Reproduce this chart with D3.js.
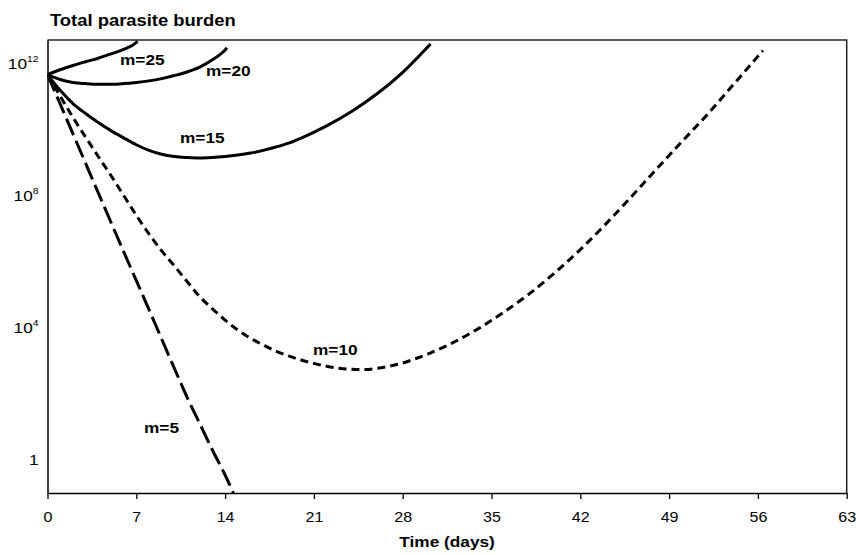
<!DOCTYPE html>
<html>
<head>
<meta charset="utf-8">
<script src="https://cdn.jsdelivr.net/npm/d3@7"></script>
<style>
  html, body { margin: 0; padding: 0; background: #fff; }
  svg { display: block; }
  text { font-family: "Liberation Sans", Arial, Helvetica, sans-serif; fill: #000; }
</style>
</head>
<body>
<svg id="chart" width="856" height="555"></svg>
<script>
// ---- Data (Total parasite burden vs days) ----
const xTicks = [0, 7, 14, 21, 28, 35, 42, 49, 56, 63];
const yTicks = [1, 1e4, 1e8, 1e12];
const yTickLabels = [["1", ""], ["10", "4"], ["10", "8"], ["10", "12"]];

const daysM25 = [0, 1, 2, 3, 4, 5, 6, 7, 7.1];
const burdenM25 = [4.5e11, 6.3e11, 8.5e11, 1.1e12, 1.4e12, 1.9e12, 2.6e12, 4.2e12, 4.6e12];

const daysM20 = [0, 1, 2, 3, 4, 5, 6, 7, 8, 9, 10, 11, 12, 13, 14, 14.15];
const burdenM20 = [4.5e11, 3.2e11, 2.6e11, 2.4e11, 2.3e11, 2.3e11, 2.4e11, 2.6e11, 2.9e11, 3.4e11,
                   4.2e11, 5.4e11, 7.6e11, 1.26e12, 2.5e12, 2.9e12];

const daysM15 = [0, 1, 2, 3, 4, 5, 6, 7, 8, 9, 10, 11, 12, 13, 14, 15, 16, 17, 18, 19, 20,
                 22, 24, 26, 28, 30, 30.2];
const burdenM15 = [4.5e11, 1.5e11, 6.0e10, 3.0e10, 1.6e10, 9.1e9, 5.5e9, 3.4e9, 2.3e9, 1.75e9,
                   1.5e9, 1.4e9, 1.35e9, 1.4e9, 1.5e9, 1.66e9, 1.9e9, 2.3e9, 2.9e9, 3.8e9, 5.4e9,
                   1.26e10, 3.5e10, 1.2e11, 5.25e11, 3.16e12, 3.8e12];

const daysM10 = [0, 1, 2, 3, 4, 5, 6, 7, 8, 9, 10, 11, 12, 13, 14, 15, 16, 17, 18, 19, 20,
                 21, 22, 23, 24, 25, 26, 27, 28, 29, 30, 32, 34, 36, 38, 40, 42, 44, 46, 48,
                 50, 52, 54, 56, 56.4];
const burdenM10 = [4.5e11, 1.0e11, 2.3e10, 5.8e9, 1.5e9, 4.0e8, 1.0e8, 2.5e7, 6.8e6, 2.1e6,
                   7.4e5, 2.5e5, 8.7e4, 3.7e4, 1.7e4, 8.5e3, 4.8e3, 3.0e3, 1.95e3, 1.4e3, 1.05e3,
                   830, 680, 590, 550, 540, 590, 690, 850, 1.15e3, 1.6e3, 3.6e3, 9.5e3, 3.0e4,
                   1.07e5, 4.6e5, 2.3e6, 1.35e7, 8.9e7, 6.2e8, 4.2e9, 2.75e10, 2.1e11, 1.6e12, 2.4e12];

const daysM5 = [0, 2, 4, 6, 8, 10, 11, 12, 13, 14, 14.65];
const burdenM5 = [4.5e11, 7.4e9, 1.2e8, 2.0e6, 3.5e4, 590, 79, 12.6, 2.0, 0.35, 0.1];

const seriesNames = ["m=25", "m=20", "m=15", "m=10", "m=5"];

// ---- Build series ----
const series = [
  { name: seriesNames[0], days: daysM25, vals: burdenM25, dash: null,   label: [120, 65] },
  { name: seriesNames[1], days: daysM20, vals: burdenM20, dash: null,   label: [206, 76] },
  { name: seriesNames[2], days: daysM15, vals: burdenM15, dash: null,   label: [180, 143] },
  { name: seriesNames[3], days: daysM10, vals: burdenM10, dash: "8,5",  label: [313, 355] },
  { name: seriesNames[4], days: daysM5,  vals: burdenM5,  dash: "18,6", label: [144, 433] }
];

const svg = d3.select("#chart");
const plotL = 47.5, plotR = 846.7, plotT = 40, plotB = 493;
const SX = 1.15; // horizontal text stretch of the reference

const x = d3.scaleLinear().domain([0, 63]).range([plotL, plotR]);
const y = d3.scaleLog().domain([0.1, 5e12]).range([plotB, plotT]);

svg.append("defs").append("clipPath").attr("id", "plotclip")
  .append("rect").attr("x", plotL).attr("y", plotT).attr("width", plotR - plotL).attr("height", plotB - plotT);

// frame (top and right)
svg.append("path")
  .attr("d", `M${plotL},${plotT}H${plotR}V${plotB}`)
  .attr("fill", "none").attr("stroke", "#222").attr("stroke-width", 1.5);

// lines
const line = d3.line().x(d => x(d[0])).y(d => y(d[1])).curve(d3.curveMonotoneX);
const gLines = svg.append("g").attr("clip-path", "url(#plotclip)");
series.forEach(s => {
  const pts = s.days.map((d, i) => [d, s.vals[i]]);
  gLines.append("path")
    .attr("d", line(pts))
    .attr("fill", "none")
    .attr("stroke", "#000")
    .attr("stroke-width", 3)
    .attr("stroke-linecap", "butt")
    .attr("stroke-dasharray", s.dash);
});

// x axis
const xAxis = svg.append("g").attr("transform", `translate(0,${plotB})`)
  .call(d3.axisBottom(x).tickValues(xTicks).tickSize(6).tickSizeOuter(0).tickFormat(d3.format("d")));
xAxis.select(".domain").attr("stroke", "#000").attr("stroke-width", 1.5);
xAxis.selectAll(".tick line").attr("stroke", "#000").attr("stroke-width", 1.3);
xAxis.selectAll(".tick text")
  .attr("font-size", 14).attr("y", 0).attr("dy", 0)
  .attr("transform", `translate(0,29) scale(${SX},1)`)
  .style("font-family", "'Liberation Sans', Arial, sans-serif");

// y axis
const yAxis = svg.append("g").attr("transform", `translate(${plotL},0)`)
  .call(d3.axisLeft(y).tickValues(yTicks).tickSize(0).tickSizeOuter(0).tickFormat(() => ""));
yAxis.select(".domain").attr("stroke", "#000").attr("stroke-width", 1.5);
yAxis.selectAll(".tick text").each(function(d) {
  const t = d3.select(this);
  const lab = yTickLabels[yTicks.indexOf(d)];
  t.text(null)
    .attr("x", 0).attr("dy", 0).attr("y", 0)
    .attr("text-anchor", "end")
    .attr("transform", `translate(-9,5) scale(${SX},1)`)
    .style("font-family", "'Liberation Sans', Arial, sans-serif");
  t.append("tspan").attr("font-size", 15).text(lab[0]);
  if (lab[1]) t.append("tspan").attr("font-size", 9).attr("dy", -7).text(lab[1]);
});

// series labels
series.forEach(s => {
  svg.append("text")
    .attr("transform", `translate(${s.label[0]},${s.label[1]}) scale(${SX},1)`)
    .attr("font-size", 15).attr("font-weight", "bold")
    .text(s.name);
});

// title
svg.append("text")
  .attr("transform", `translate(50,26) scale(${SX},1)`)
  .attr("font-size", 16).attr("font-weight", "bold")
  .text("Total parasite burden");

// x axis title
svg.append("text")
  .attr("transform", `translate(${(plotL + plotR) / 2},547) scale(${SX},1)`)
  .attr("text-anchor", "middle")
  .attr("font-size", 15).attr("font-weight", "bold")
  .text("Time (days)");
</script>
</body>
</html>
